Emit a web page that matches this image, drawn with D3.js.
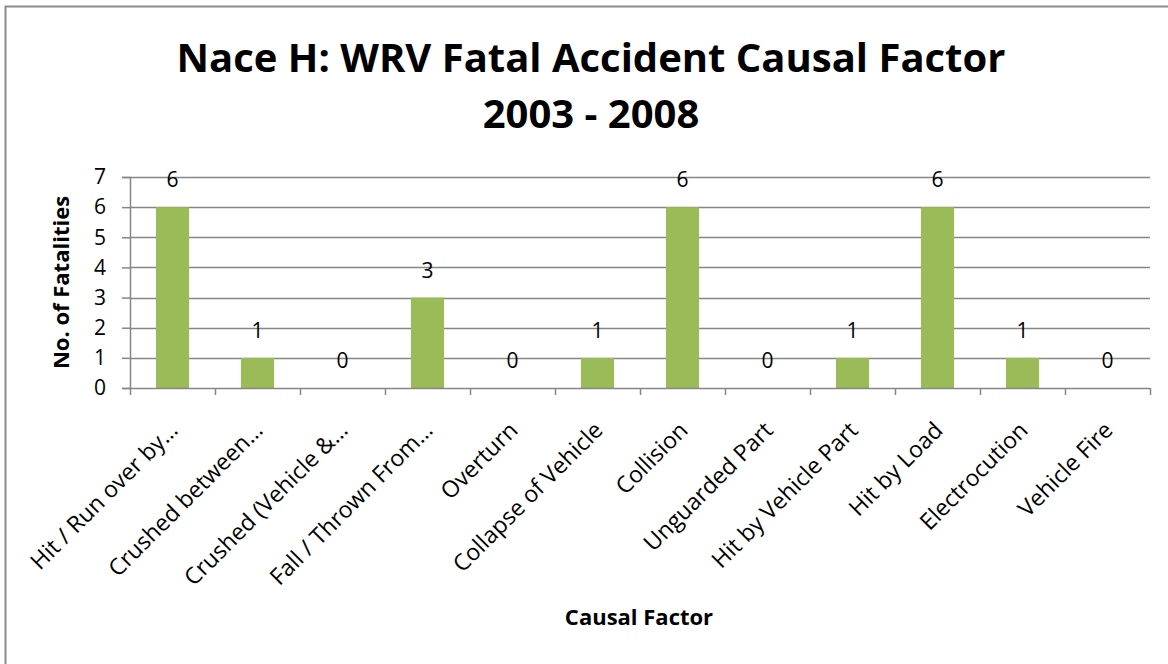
<!DOCTYPE html>
<html>
<head>
<meta charset="utf-8">
<script src="https://cdn.jsdelivr.net/npm/d3@7"></script>
<style>
  body { margin: 0; background: #fff; }
  svg text { font-family: "Open Sans", "Noto Sans", sans-serif; fill: #000; }
</style>
</head>
<body>
<svg class="chart"></svg>
<script>
var categories = ["Hit / Run over by\u2026", "Crushed between\u2026", "Crushed (Vehicle &\u2026",
    "Fall / Thrown From\u2026", "Overturn", "Collapse of Vehicle", "Collision",
    "Unguarded Part", "Hit by Vehicle Part", "Hit by Load", "Electrocution", "Vehicle Fire"];
var fatalities = [6, 1, 0, 3, 0, 1, 6, 0, 1, 6, 1, 0];
var yTicks = [0, 1, 2, 3, 4, 5, 6, 7];
var titleLines = ["Nace H: WRV Fatal Accident Causal Factor", "2003 - 2008"];

var W = 1168, H = 664;
var margin = {top: 177, bottom: 276, left: 130, right: 18};
var width = W - margin.left - margin.right,
    height = H - margin.top - margin.bottom;

var svg = d3.select(".chart").attr("width", W).attr("height", H);

// outer chart border (only top & left visible in frame)
svg.append("rect")
    .attr("x", 5.5).attr("y", 6.5)
    .attr("width", W + 20).attr("height", H + 20)
    .attr("fill", "none").attr("stroke", "#8c8c8c").attr("stroke-width", 2);

var g = svg.append("g")
    .attr("transform", "translate(" + margin.left + "," + margin.top + ")");

var x = d3.scaleBand().domain(categories).range([0, width])
    .paddingInner(0.61).paddingOuter(0.305);
var y = d3.scaleLinear().domain([0, 7]).range([height, 0]);
var step = x.step();

// gridlines
g.append("g").selectAll("line")
    .data(yTicks.filter(function(d) { return d > 0; }))
    .enter().append("line")
    .attr("x1", 0).attr("x2", width)
    .attr("y1", function(d) { return Math.round(y(d)) + 0.5; })
    .attr("y2", function(d) { return Math.round(y(d)) + 0.5; })
    .attr("stroke", "#868686").attr("stroke-width", 1.5);

// y axis
var yAxis = g.append("g")
    .call(d3.axisLeft(y).tickValues(yTicks).tickSize(8).tickPadding(16).tickFormat(d3.format("d")));
yAxis.select(".domain").attr("stroke", "#868686").attr("stroke-width", 1.5);
yAxis.selectAll(".tick line").attr("stroke", "#868686").attr("stroke-width", 1.5);
yAxis.selectAll(".tick text")
    .style("font-size", "21px").attr("fill", "#000");

// bars
g.append("g").selectAll("rect")
    .data(fatalities)
    .enter().append("rect")
    .attr("x", function(d, i) { return x(categories[i]); })
    .attr("width", x.bandwidth())
    .attr("y", function(d) { return y(d); })
    .attr("height", function(d) { return height - y(d); })
    .attr("fill", "#9bbb59");

// data labels
g.append("g").selectAll("text")
    .data(fatalities)
    .enter().append("text")
    .attr("x", function(d, i) { return x(categories[i]) + x.bandwidth() / 2; })
    .attr("y", function(d) { return y(d) - 20; })
    .attr("text-anchor", "middle")
    .style("font-size", "21px")
    .text(function(d) { return d; });

// x axis line + boundary ticks
g.append("line")
    .attr("x1", 0).attr("x2", width).attr("y1", height + 0.5).attr("y2", height + 0.5)
    .attr("stroke", "#868686").attr("stroke-width", 1.5);
g.append("g").selectAll("line")
    .data(d3.range(categories.length + 1))
    .enter().append("line")
    .attr("x1", function(i) { return Math.round(i * step) + 0.5; })
    .attr("x2", function(i) { return Math.round(i * step) + 0.5; })
    .attr("y1", height).attr("y2", height + 7)
    .attr("stroke", "#868686").attr("stroke-width", 1.5);

// category labels
g.append("g").selectAll("text")
    .data(categories)
    .enter().append("text")
    .attr("transform", function(d) {
        return "translate(" + (x(d) + x.bandwidth() / 2 + 1) + "," + (height + 38) + ") rotate(-45)";
    })
    .attr("text-anchor", "end")
    .attr("dy", "0.35em")
    .style("font-size", "23px")
    .text(function(d) { return d; });

// titles
svg.append("g").selectAll("text")
    .data(titleLines)
    .enter().append("text")
    .attr("x", 591)
    .attr("y", function(d, i) { return 72 + i * 56; })
    .attr("text-anchor", "middle")
    .style("font-size", "40px").style("font-weight", "bold")
    .text(function(d) { return d; });

svg.append("text")
    .attr("transform", "translate(69," + (margin.top + height / 2) + ") rotate(-90)")
    .attr("text-anchor", "middle")
    .style("font-size", "22px").style("font-weight", "bold")
    .text("No. of Fatalities");

svg.append("text")
    .attr("x", 639).attr("y", 625)
    .attr("text-anchor", "middle")
    .style("font-size", "22px").style("font-weight", "bold")
    .text("Causal Factor");
</script>
</body>
</html>
